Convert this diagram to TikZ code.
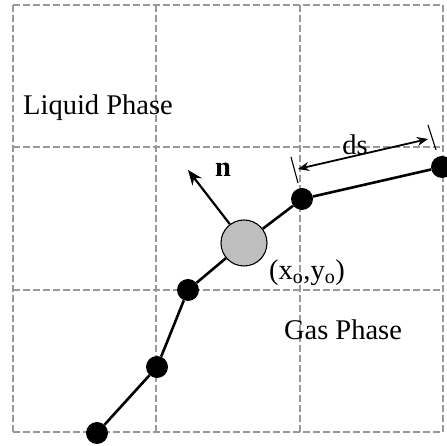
\documentclass[tikz,border=0pt]{standalone}
\usepackage{fontspec}
\setmainfont{Liberation Serif}
\usepackage{tikz}
\usetikzlibrary{arrows.meta}

\begin{document}
\begin{tikzpicture}[x=1pt, y=1pt,
    gridline/.style={gray!80, line width=1.7pt, dash pattern=on 6.5pt off 3.5pt},
    dot/.style={circle, fill=black, inner sep=0pt, minimum size=22pt},
    centre/.style={circle, draw=black, line width=1.1pt, fill=black!25, inner sep=0pt, minimum size=46pt},
    front/.style={line width=2.6pt},
    lbl/.style={font=\fontsize{28.5}{34}\selectfont, inner sep=0pt}]
  \useasboundingbox (0,0) rectangle (447,446);
  \foreach \gx in {13,156.3,299.7,443}
    \draw[gridline] (\gx,14) -- (\gx,441);
  \foreach \gy in {14,156.3,298.7,441}
    \draw[gridline] (13,\gy) -- (443,\gy);
  \node[lbl] at (98,338) {Liquid Phase};
  \node[lbl] at (343,116) {Gas Phase};
  % front points
  \node[dot] (p1) at (97,13) {};
  \node[dot] (p2) at (157,79) {};
  \node[dot] (p3) at (188,156) {};
  \node[centre] (c) at (244,203) {};
  \node[dot] (p4) at (302,247) {};
  \node[dot] (p5) at (442,279) {};
  \draw[front] (p1) -- (p2) -- (p3) -- (c) -- (p4) -- (p5);
  \node[lbl] (xy) at (307,173) {(x\textsubscript{o},y\textsubscript{o})};
  % normal
  \coordinate (ntip) at (188,276);
  \draw[line width=2.2pt, -{Stealth[length=15pt, width=12pt]}] (c.127.5) -- (ntip);
  \node[lbl, font=\fontsize{28.5}{34}\selectfont\bfseries] (n) at (223,276) {n};
  % spacing ds
  \coordinate (dsa) at (298,277);
  \coordinate (dsb) at (428,307);
  \draw[line width=1.1pt] (291,289) -- (298,263);
  \draw[line width=1.1pt] (428,321) -- (436,296);
  \draw[line width=1.8pt, {Stealth[length=11pt, width=9pt]}-{Stealth[length=11pt, width=9pt]}] (dsa) -- (dsb);
  \node[lbl] (ds) at (355,301) {ds};
\end{tikzpicture}
\end{document}
